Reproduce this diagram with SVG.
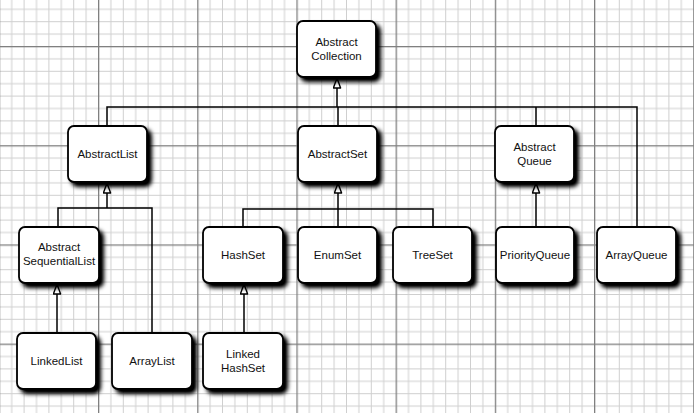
<svg xmlns="http://www.w3.org/2000/svg" width="694" height="413" viewBox="0 0 694 413">
<style>
.box{fill:#fff;stroke:#000;stroke-width:1.8;filter:url(#sh)}
.lbl{font-family:"Liberation Sans",Arial,sans-serif;font-size:11.5px;fill:#111;text-anchor:middle}
.con{fill:none;stroke:#000;stroke-width:1.5}
.arr{fill:none;stroke:#000;stroke-width:1.5;marker-end:url(#tri)}
</style>
<defs>
<pattern id="grid" patternUnits="userSpaceOnUse" x="98" y="46" width="99.2" height="99.2">
<g fill="#cfcfcf">
<rect x="12.4" y="0" width="1" height="99.2"/><rect x="24.8" y="0" width="1" height="99.2"/><rect x="37.2" y="0" width="1" height="99.2"/><rect x="49.6" y="0" width="1" height="99.2"/><rect x="62" y="0" width="1" height="99.2"/><rect x="74.4" y="0" width="1" height="99.2"/><rect x="86.8" y="0" width="1" height="99.2"/>
<rect y="12.4" x="0" height="1" width="99.2"/><rect y="24.8" x="0" height="1" width="99.2"/><rect y="37.2" x="0" height="1" width="99.2"/><rect y="49.6" x="0" height="1" width="99.2"/><rect y="62" x="0" height="1" width="99.2"/><rect y="74.4" x="0" height="1" width="99.2"/><rect y="86.8" x="0" height="1" width="99.2"/>
</g>
<g fill="#808080">
<rect x="0" y="0" width="1.3" height="99.2"/><rect x="0" y="0" width="99.2" height="1.3"/>
</g>
</pattern>
<filter id="sh" x="-20%" y="-20%" width="150%" height="150%">
<feGaussianBlur in="SourceAlpha" stdDeviation="2"/>
<feOffset dx="3.5" dy="3.5" result="b"/>
<feComponentTransfer in="b" result="c"><feFuncA type="linear" slope="1.1"/></feComponentTransfer>
<feMerge><feMergeNode in="c"/><feMergeNode in="SourceGraphic"/></feMerge>
</filter>
<marker id="tri" markerUnits="userSpaceOnUse" viewBox="0 0 12 9" refX="11" refY="4.5" markerWidth="12" markerHeight="9" orient="auto">
<path d="M1,0.9 L11,4.5 L1,8.1 Z" fill="#fff" stroke="#000" stroke-width="1.4" stroke-linejoin="round"/>
</marker>
</defs>
<rect x="0" y="0" width="694" height="413" fill="#fff"/>
<rect x="0" y="0" width="694" height="413" fill="url(#grid)"/>

<g id="connectors">
<path class="arr" d="M337,107 L337,78"/>
<path class="con" d="M107,126 L107,107 L637,107 L637,227 M338,107 L338,126 M536,107 L536,126"/>
<path class="arr" d="M107,208 L107,183"/>
<path class="con" d="M58,227 L58,208 L152,208 L152,333"/>
<path class="arr" d="M338,209 L338,183"/>
<path class="con" d="M243,227 L243,209 L433,209 L433,227 M338,209 L338,227"/>
<path class="arr" d="M536,227 L536,183"/>
<path class="arr" d="M57,333 L57,284"/>
<path class="arr" d="M244,333 L244,284"/>
</g>

<g id="AbstractCollection"><rect class="box" x="297" y="21" width="79" height="56" rx="6"/><text class="lbl" x="336.5" y="46">Abstract</text><text class="lbl" x="336.5" y="60">Collection</text></g>
<g id="AbstractList"><rect class="box" x="68" y="126" width="79" height="56" rx="6"/><text class="lbl" x="107.5" y="158">AbstractList</text></g>
<g id="AbstractSet"><rect class="box" x="298" y="126" width="79" height="56" rx="6"/><text class="lbl" x="337.5" y="158">AbstractSet</text></g>
<g id="AbstractQueue"><rect class="box" x="495" y="126" width="79" height="56" rx="6"/><text class="lbl" x="534.5" y="151">Abstract</text><text class="lbl" x="534.5" y="165">Queue</text></g>
<g id="AbstractSequentialList"><rect class="box" x="19" y="227" width="80" height="56" rx="6"/><text class="lbl" x="59" y="251">Abstract</text><text class="lbl" x="59" y="265">SequentialList</text></g>
<g id="HashSet"><rect class="box" x="203" y="227" width="80" height="56" rx="6"/><text class="lbl" x="243" y="259">HashSet</text></g>
<g id="EnumSet"><rect class="box" x="298" y="227" width="79" height="56" rx="6"/><text class="lbl" x="337.5" y="259">EnumSet</text></g>
<g id="TreeSet"><rect class="box" x="393" y="227" width="79" height="56" rx="6"/><text class="lbl" x="432.5" y="259">TreeSet</text></g>
<g id="PriorityQueue"><rect class="box" x="496" y="227" width="78" height="56" rx="6"/><text class="lbl" x="535" y="259">PriorityQueue</text></g>
<g id="ArrayQueue"><rect class="box" x="597" y="227" width="79" height="56" rx="6"/><text class="lbl" x="636.5" y="259">ArrayQueue</text></g>
<g id="LinkedList"><rect class="box" x="17" y="333" width="79" height="56" rx="6"/><text class="lbl" x="56.5" y="365">LinkedList</text></g>
<g id="ArrayList"><rect class="box" x="112" y="333" width="80" height="56" rx="6"/><text class="lbl" x="152" y="365">ArrayList</text></g>
<g id="LinkedHashSet"><rect class="box" x="203" y="333" width="80" height="56" rx="6"/><text class="lbl" x="243" y="358">Linked</text><text class="lbl" x="243" y="372">HashSet</text></g>
</svg>
